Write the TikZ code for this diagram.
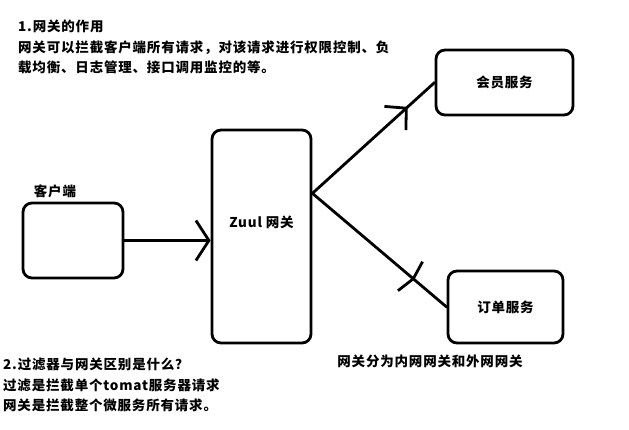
\documentclass[tikz,border=0pt]{standalone}
\usepackage{fontspec}
\setmainfont[LetterSpace=6]{Noto Sans CJK SC}
\usetikzlibrary{arrows.meta,calc,decorations.markings}

\begin{document}
\begin{tikzpicture}[x=1pt,y=-1pt,
    box/.style={draw, line width=2.8pt, rounded corners=9pt, inner sep=0pt},
    link/.style={line width=2.8pt, line cap=round},
    txt/.style={font=\fontsize{13.5}{20.5}\selectfont\bfseries, inner sep=0pt},
    midtip/.style 2 args={postaction={decorate},
        decoration={markings, mark=at position #1 with {\arrow{#2}}}}]
    \useasboundingbox (0,0) rectangle (629,430);
    % boxes
    \node[box, minimum width=100pt, minimum height=75pt] (client) at (73,240.5) {};
    \node[box, minimum width=99pt, minimum height=213pt, label={[txt, yshift=14pt]center:Zuul 网关}] (zuul) at (261.5,236.5) {};
    \node[box, txt, minimum width=137pt, minimum height=65pt] (member) at (504.5,82.5) {会员服务};
    \node[box, txt, minimum width=115pt, minimum height=72pt] (order) at (505.5,307) {订单服务};
    \node[txt] (clientlbl) at (55,191) {客户端};
    % texts
    \node[txt, anchor=north west, align=left] (intro) at (18,20) {1.网关的作用\\网关可以拦截客户端所有请求，对该请求进行权限控制、负\\载均衡、日志管理、接口调用监控的等。};
    \node[txt, anchor=north west, align=left] (diff) at (3,358) {2.过滤器与网关区别是什么？\\过滤是拦截单个tomat服务器请求\\网关是拦截整个微服务所有请求。};
    \node[txt] (kinds) at (430,361) {网关分为内网网关和外网网关};
    % connectors
    \coordinate (fork) at ($(zuul.north east)!0.3!(zuul.south east)$);
    \draw[link, -{Straight Barb[length=13pt,width=40pt]}] (client.east) -- (client.east -| zuul.west);
    \draw[link, midtip={0.78}{Straight Barb[length=15pt,width=32pt]}] (fork) -- (member.west);
    \draw[link, midtip={0.76}{Straight Barb[length=4pt,width=38pt]}] (fork) -- (order.west);
\end{tikzpicture}
\end{document}
